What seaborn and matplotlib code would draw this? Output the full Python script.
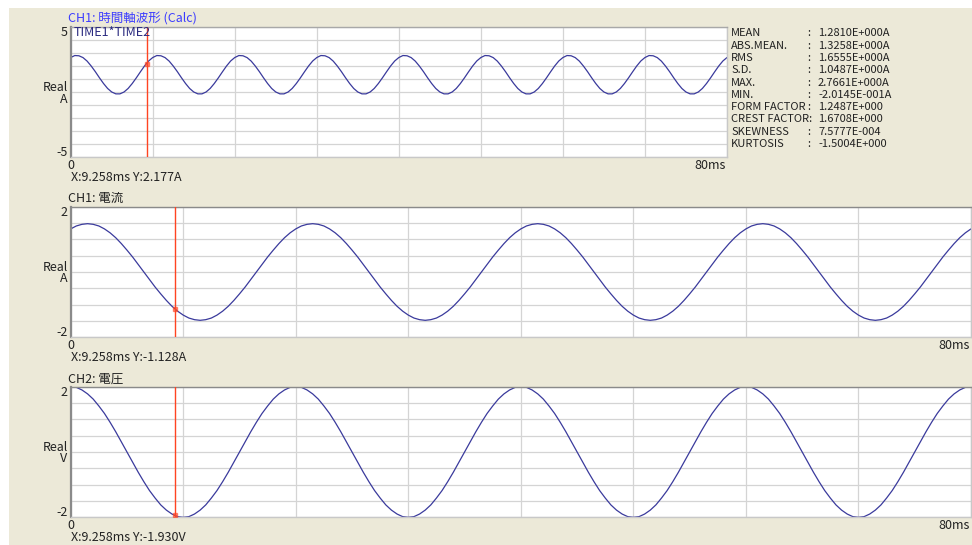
import numpy as np
import pandas as pd
import seaborn as sns
import matplotlib
matplotlib.use("Agg")
import matplotlib.pyplot as plt
from matplotlib.patches import Rectangle

# sample grid of the recorder, 0.5 ms steps over 80 ms
time_ms = np.arange(0, 80.5, 0.5)

# CH1 current [A]
current_a = [
    1.32, 1.41, 1.46, 1.48, 1.46, 1.41, 1.32, 1.20, 1.05, 0.87, 0.67, 0.46, 0.23, 0.00, -0.23, -0.46, -0.67, -0.87, -1.05, -1.20,
    -1.32, -1.41, -1.46, -1.48, -1.46, -1.41, -1.32, -1.20, -1.05, -0.87, -0.67, -0.46, -0.23, 0.00, 0.23, 0.46, 0.67, 0.87, 1.05, 1.20,
    1.32, 1.41, 1.46, 1.48, 1.46, 1.41, 1.32, 1.20, 1.05, 0.87, 0.67, 0.46, 0.23, 0.00, -0.23, -0.46, -0.67, -0.87, -1.05, -1.20,
    -1.32, -1.41, -1.46, -1.48, -1.46, -1.41, -1.32, -1.20, -1.05, -0.87, -0.67, -0.46, -0.23, 0.00, 0.23, 0.46, 0.67, 0.87, 1.05, 1.20,
    1.32, 1.41, 1.46, 1.48, 1.46, 1.41, 1.32, 1.20, 1.05, 0.87, 0.67, 0.46, 0.23, 0.00, -0.23, -0.46, -0.67, -0.87, -1.05, -1.20,
    -1.32, -1.41, -1.46, -1.48, -1.46, -1.41, -1.32, -1.20, -1.05, -0.87, -0.67, -0.46, -0.23, 0.00, 0.23, 0.46, 0.67, 0.87, 1.05, 1.20,
    1.32, 1.41, 1.46, 1.48, 1.46, 1.41, 1.32, 1.20, 1.05, 0.87, 0.67, 0.46, 0.23, 0.00, -0.23, -0.46, -0.67, -0.87, -1.05, -1.20,
    -1.32, -1.41, -1.46, -1.48, -1.46, -1.41, -1.32, -1.20, -1.05, -0.87, -0.67, -0.46, -0.23, 0.00, 0.23, 0.46, 0.67, 0.87, 1.05, 1.20,
    1.32,
]

# CH2 voltage [V]
voltage_v = [
    2.00, 1.98, 1.90, 1.78, 1.62, 1.41, 1.18, 0.91, 0.62, 0.31, 0.00, -0.31, -0.62, -0.91, -1.18, -1.41, -1.62, -1.78, -1.90, -1.98,
    -2.00, -1.98, -1.90, -1.78, -1.62, -1.41, -1.18, -0.91, -0.62, -0.31, 0.00, 0.31, 0.62, 0.91, 1.18, 1.41, 1.62, 1.78, 1.90, 1.98,
    2.00, 1.98, 1.90, 1.78, 1.62, 1.41, 1.18, 0.91, 0.62, 0.31, 0.00, -0.31, -0.62, -0.91, -1.18, -1.41, -1.62, -1.78, -1.90, -1.98,
    -2.00, -1.98, -1.90, -1.78, -1.62, -1.41, -1.18, -0.91, -0.62, -0.31, 0.00, 0.31, 0.62, 0.91, 1.18, 1.41, 1.62, 1.78, 1.90, 1.98,
    2.00, 1.98, 1.90, 1.78, 1.62, 1.41, 1.18, 0.91, 0.62, 0.31, 0.00, -0.31, -0.62, -0.91, -1.18, -1.41, -1.62, -1.78, -1.90, -1.98,
    -2.00, -1.98, -1.90, -1.78, -1.62, -1.41, -1.18, -0.91, -0.62, -0.31, 0.00, 0.31, 0.62, 0.91, 1.18, 1.41, 1.62, 1.78, 1.90, 1.98,
    2.00, 1.98, 1.90, 1.78, 1.62, 1.41, 1.18, 0.91, 0.62, 0.31, 0.00, -0.31, -0.62, -0.91, -1.18, -1.41, -1.62, -1.78, -1.90, -1.98,
    -2.00, -1.98, -1.90, -1.78, -1.62, -1.41, -1.18, -0.91, -0.62, -0.31, 0.00, 0.31, 0.62, 0.91, 1.18, 1.41, 1.62, 1.78, 1.90, 1.98,
    2.00,
]

cursor_x = 9.258
cursor_y = [2.177, -1.128, -1.930]
readouts = ["X:9.258ms Y:2.177A", "X:9.258ms Y:-1.128A", "X:9.258ms Y:-1.930V"]

stat_names = ["MEAN", "ABS.MEAN.", "RMS", "S.D.", "MAX.", "MIN.",
              "FORM FACTOR", "CREST FACTOR:", "SKEWNESS", "KURTOSIS"]
stat_values = ["1.2810E+000A", "1.3258E+000A", "1.6555E+000A", "1.0487E+000A",
               "2.7661E+000A", "-2.0145E-001A", "1.2487E+000", "1.6708E+000",
               "7.5777E-004", "-1.5004E+000"]

df = pd.DataFrame({"t": time_ms, "i": current_a, "v": voltage_v})
df["p"] = df["i"] * df["v"]  # TIME1*TIME2

sns.set_style("white")
plt.rcParams["font.family"] = ["Noto Sans CJK JP", "DejaVu Sans"]
plt.rcParams["font.size"] = 9

W, H = 972, 545
BG = "#ECE9D8"
LINE = "#3A3A9C"
RED = "#FF4422"
GRID = "#D4D4D4"
INK = "#222222"

fig = plt.figure(figsize=(W / 100, H / 100), dpi=100, facecolor="white")
fig.patches.append(Rectangle((9 / W, 0), 1, 1 - 8 / H, transform=fig.transFigure,
                             facecolor=BG, edgecolor="none", zorder=-10))


def ftext(x, y, s, **kw):
    fig.text(x / W, 1 - y / H, s, va="center", **kw)


# panel boxes in pixels: left, top, right, bottom
panels = [
    dict(col="p", box=(70.7, 26.7, 727, 157.3), lim=5, step=1,
         title="CH1: 時間軸波形 (Calc)", tcolor="#3C3CFF", unit="A"),
    dict(col="i", box=(70.7, 206.7, 971, 337.3), lim=2, step=0.5,
         title="CH1: 電流", tcolor=INK, unit="A"),
    dict(col="v", box=(70.7, 386.7, 971, 517.3), lim=2, step=0.5,
         title="CH2: 電圧", tcolor=INK, unit="V"),
]

for k, p in enumerate(panels):
    l, t, r, b = p["box"]
    ax = fig.add_axes([l / W, 1 - b / H, (r - l) / W, (b - t) / H])
    ax.set_facecolor("white")
    sns.lineplot(data=df, x="t", y=p["col"], ax=ax, color=LINE, linewidth=0.9)
    ax.set_xlim(0, 80)
    ax.set_ylim(-p["lim"], p["lim"])
    ax.set_xticks(np.arange(0, 81, 10))
    ax.set_yticks(np.arange(-p["lim"], p["lim"] + 0.01, p["step"]))
    ax.tick_params(length=0, labelbottom=False, labelleft=False)
    ax.grid(True, color=GRID, linewidth=0.9)
    ax.set_xlabel("")
    ax.set_ylabel("")
    for side, c, w in [("left", "#8A8A8A", 1.6), ("top", "#A8A8A8" if k == 0 else "#8A8A8A", 1.0),
                       ("right", "#C8C8C8", 1.0), ("bottom", "#C8C8C8", 1.0)]:
        ax.spines[side].set_color(c)
        ax.spines[side].set_linewidth(w)

    ax.axvline(cursor_x, color=RED, linewidth=1.0, zorder=4)
    ax.plot([cursor_x], [cursor_y[k]], marker="s", markersize=3.5, color=RED,
            markeredgecolor=RED, alpha=0.6, zorder=5)

    mid = (t + b) / 2
    ftext(l - 2.5, t - 8, p["title"], ha="left", color=p["tcolor"])
    ftext(l - 3, t + 6, f"{p['lim']}", ha="right", color=INK)
    ftext(l - 3, b - 4.5, f"-{p['lim']}", ha="right", color=INK)
    ftext(l - 3, mid - 4.5, "Real", ha="right", color=INK)
    ftext(l - 3, mid + 7, p["unit"], ha="right", color=INK)
    ftext(l, b + 8, "0", ha="center", color=INK)
    ftext(r - 1.5, b + 8, "80ms", ha="right", color=INK)
    ftext(l + 0.5, b + 20.5, readouts[k], ha="left", color=INK)

    if k == 0:
        ftext(74, 33, "TIME1*TIME2", ha="left", color="#2B2B80")

# statistics block beside the top panel
for n, (name, val) in enumerate(zip(stat_names, stat_values)):
    y = 33.3 + n * 12.3
    ftext(731, y, name, ha="left", color=INK, fontsize=8)
    if not name.endswith(":"):
        ftext(807, y, ":", ha="left", color=INK, fontsize=8)
    ftext(818, y, val, ha="left", color=INK, fontsize=8)

fig.savefig("out.png", dpi=100, facecolor=fig.get_facecolor())
